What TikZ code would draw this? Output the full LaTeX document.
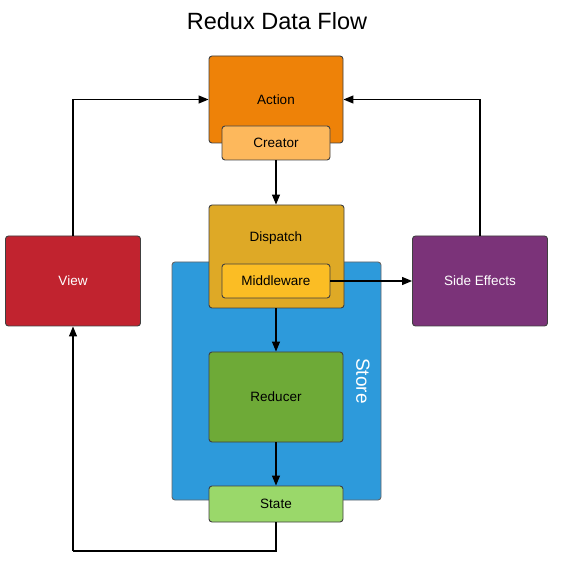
\documentclass[tikz,border=0pt]{standalone}
\usepackage{fontspec}
\setmainfont{Liberation Sans}
\usetikzlibrary{arrows.meta}
\definecolor{cAction}{HTML}{EE8208}
\definecolor{cCreator}{HTML}{FDB85C}
\definecolor{cDispatch}{HTML}{DEA926}
\definecolor{cMiddle}{HTML}{FBBD24}
\definecolor{cStore}{HTML}{2D9ADB}
\definecolor{cView}{HTML}{C1232F}
\definecolor{cSide}{HTML}{7B3379}
\definecolor{cReducer}{HTML}{6EAA37}
\definecolor{cState}{HTML}{9AD86A}
\begin{document}
\begin{tikzpicture}[x=1pt,y=-1pt,
  lbl/.style={font=\fontsize{13.5}{16}\selectfont},
  box/.style={draw=black!75, line width=0.9pt, rounded corners=3pt, inner sep=0pt, lbl},
  flow/.style={draw=black, line width=1.2pt, -{Triangle[length=10pt,width=8pt]}},
  plain/.style={draw=black, line width=1.2pt}]
\useasboundingbox (0,0) rectangle (565,561);
\node[font=\fontsize{23.5}{27}\selectfont] (title) at (277,21) {Redux Data Flow};
% Store
\node[box, fill=cStore, draw=black!60, minimum width=209pt, minimum height=238pt] (storebox) at (276.5,381) {};
\node[font=\fontsize{19}{22}\selectfont, text=white, rotate=-90] (store) at (363,381) {Store};
% boxes
\node[box, fill=cAction, minimum width=134pt, minimum height=87pt] (action) at (276,99.5) {Action};
\node[box, fill=cCreator, minimum width=108pt, minimum height=34pt] (creator) at (276,143) {Creator};
\node[box, fill=cDispatch, minimum width=135pt, minimum height=103pt] (dispatch) at (276.5,256.5) {};
\node[lbl] (dispatchtxt) at (276,238) {Dispatch};
\node[box, fill=cMiddle, minimum width=108pt, minimum height=34pt] (middle) at (276,281) {Middleware};
\node[box, fill=cView, text=white, minimum width=135pt, minimum height=90pt] (view) at (73,281) {View};
\node[box, fill=cSide, text=white, minimum width=135pt, minimum height=90pt] (side) at (480,281) {Side Effects};
\node[box, fill=cReducer, minimum width=134pt, minimum height=90pt] (reducer) at (276,397) {Reducer};
\node[box, fill=cState, minimum width=134pt, minimum height=36pt] (state) at (276,504) {State};
% connectors
\draw[flow] (creator.south) -- (creator.south |- dispatch.north);
\draw[flow] (middle.east) -- (side.west);
\draw[flow] (dispatch.south -| reducer.north) -- (reducer.north);
\draw[flow] (reducer.south) -- (state.north);
\draw[flow] (view.north) |- (action.west);
\draw[flow] (side.north) |- (action.east);
\coordinate (loop) at (73,551);
\draw[plain] (state.south) |- (loop);
\draw[flow] (loop) -- (view.south);
\end{tikzpicture}
\end{document}
